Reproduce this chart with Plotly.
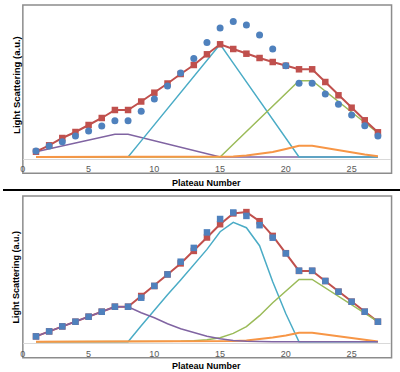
import plotly.graph_objects as go

plateau = list(range(1, 28))
x_ticks = [0, 5, 10, 15, 20, 25]

# ---- top panel (linear decomposition) ----
top_data = [6, 11, 15.3, 21, 26, 31, 36.3, 36.3, 45.7, 58, 71, 84, 98.5, 114.5, 129, 135.5,
            132, 122, 108, 91.3, 73.7, 73.7, 63, 52.7, 42, 31.3, 21]
top_fit = [5.3, 11.7, 19, 25, 32, 39, 47, 47, 55.5, 64.3, 73.5, 83, 92, 102.7, 112.7, 108,
           103.3, 99, 95, 91.3, 87.7, 87.7, 75, 61.7, 49.3, 36.7, 24.7]
top_purple = [5.3, 8.2, 11.1, 14, 16.9, 19.8, 22.7, 22.7, 19.5, 16.2, 13, 9.7, 6.5, 3.2, 0,
              0, 0, 0, 0, 0, 0, 0, 0, 0, 0, 0, 0]
top_cyan = [0, 0, 0, 0, 0, 0, 0, 0, 16.1, 32.2, 48.3, 64.4, 80.5, 96.6, 112.7, 93.9, 75.1,
            56.3, 37.6, 18.8, 0, 0, 0, 0, 0, 0, 0]
top_green = [0, 0, 0, 0, 0, 0, 0, 0, 0, 0, 0, 0, 0, 0, 0, 12.7, 25.4, 38.2, 50.9, 63.6,
             76.3, 76.3, 66, 55.5, 45, 34.5, 24]
top_orange = [0, 0, 0, 0, 0, 0, 0, 0, 0, 0, 0, 0, 0, 0, 0, 0.5, 1.5, 3, 5, 8, 11.3, 11.3,
              9, 6.8, 4.6, 2.6, 0.8]

# ---- bottom panel (curved decomposition) ----
bot_data = [5.3, 10.3, 15.3, 20, 25, 30, 35, 35, 44, 55.8, 67.3, 80, 93.8, 109.3, 122.7,
            129.2, 125.8, 116.5, 104, 88.3, 71, 71, 60.7, 50, 40, 30, 20]
bot_fit = [5.3, 10.3, 15.3, 20, 25, 30, 35, 35, 45.7, 55.7, 67.3, 78.3, 90.8, 104.2, 117.5,
           128.3, 129.6, 120.5, 105.8, 88.5, 70.8, 70.8, 60.7, 50, 40, 30, 20]
bot_purple = [5.3, 10.3, 15.3, 20, 25, 30, 35, 35, 29, 24, 18, 13, 9, 5.5, 3, 1.3, 0.4, 0,
              0, 0, 0, 0, 0, 0, 0, 0, 0]
bot_cyan = [0, 0, 0, 0, 0, 0, 0, 0, 16, 31.7, 47, 61.7, 76.7, 92.3, 110, 119.3, 114, 96,
            60, 28, 0, 0, 0, 0, 0, 0, 0]
bot_green = [0, 0, 0, 0, 0, 0, 0, 0, 0, 0, 0, 0.5, 1, 2, 4, 8.3, 15, 26, 39, 51, 62.3,
             62.3, 53.8, 45.4, 36.9, 28.5, 20]
bot_orange = [0, 0, 0, 0, 0, 0, 0, 0, 0, 0, 0, 0, 0, 0, 0.2, 0.6, 1.3, 2.5, 4.2, 6.3, 9, 9,
              7.3, 5.5, 3.7, 1.9, 0.3]

BLUE, RED, GREEN, PURPLE, CYAN, ORANGE = "#4F81BD", "#C0504D", "#9BBB59", "#8064A2", "#4BACC6", "#F79646"
FONT = "Liberation Sans, Arial, sans-serif"

W, H = 400, 372
fig = go.Figure()


def line(y, color, xa, ya, width=1.5):
    fig.add_trace(go.Scatter(x=plateau, y=y, mode="lines", line=dict(color=color, width=width),
                             xaxis=xa, yaxis=ya, showlegend=False, hoverinfo="skip"))


def fit(y, xa, ya):
    fig.add_trace(go.Scatter(x=plateau, y=y, mode="lines+markers",
                             line=dict(color=RED, width=2),
                             marker=dict(symbol="square", size=6.5, color=RED),
                             xaxis=xa, yaxis=ya, showlegend=False, cliponaxis=False))


def data(y, xa, ya, symbol, size):
    fig.add_trace(go.Scatter(x=plateau, y=y, mode="markers",
                             marker=dict(symbol=symbol, size=size, color=BLUE),
                             xaxis=xa, yaxis=ya, showlegend=False, cliponaxis=False))


# top panel
line(top_purple, PURPLE, "x", "y")
line(top_cyan, CYAN, "x", "y")
line(top_green, GREEN, "x", "y")
line(top_orange, ORANGE, "x", "y", 2)
fit(top_fit, "x", "y")
data(top_data, "x", "y", "circle", 7)

# bottom panel
fit(bot_fit, "x2", "y2")
line(bot_cyan, CYAN, "x2", "y2")
line(bot_green, GREEN, "x2", "y2")
line(bot_orange, ORANGE, "x2", "y2", 2)
line(bot_purple, PURPLE, "x2", "y2")
data(bot_data, "x2", "y2", "square", 6.5)


def py(p):
    return (H - p) / H


xcommon = dict(range=[0, 28], tickvals=x_ticks, showgrid=False, zeroline=False,
               showline=True, linecolor="#D9D9D9", linewidth=1, ticks="",
               ticklabelstandoff=2,
               tickfont=dict(family=FONT, size=9, color="#595959"),
               domain=[20 / W, 391 / W], fixedrange=True)
ycommon = dict(visible=False, showgrid=False, zeroline=False, fixedrange=True)

fig.update_layout(
    width=W, height=H,
    margin=dict(l=0, r=0, t=0, b=0),
    paper_bgcolor="white", plot_bgcolor="rgba(0,0,0,0)",
    xaxis=dict(**xcommon, anchor="y"),
    yaxis=dict(**ycommon, range=[-1.5, 152], domain=[py(158.5), py(5)], anchor="x"),
    xaxis2=dict(**xcommon, anchor="y2"),
    yaxis2=dict(**ycommon, range=[-1.5, 145.7], domain=[py(343.2), py(196)], anchor="x2"),
    shapes=[
        dict(type="rect", xref="paper", yref="paper", x0=20 / W, x1=391.5 / W,
             y0=py(173.3), y1=py(5), line=dict(color="#8C8C8C", width=1.5), layer="below"),
        dict(type="rect", xref="paper", yref="paper", x0=20 / W, x1=391.5 / W,
             y0=py(357.7), y1=py(196), line=dict(color="#8C8C8C", width=1.5), layer="below"),
        dict(type="line", xref="paper", yref="paper", x0=0, x1=1, y0=py(190), y1=py(190),
             line=dict(color="black", width=2)),
    ],
    annotations=[
        dict(text="<b>Plateau Number</b>", x=205 / W, y=py(182.5), xref="paper", yref="paper",
             showarrow=False, font=dict(family=FONT, size=9, color="black"),
             xanchor="center", yanchor="middle"),
        dict(text="<b>Plateau Number</b>", x=205 / W, y=py(366), xref="paper", yref="paper",
             showarrow=False, font=dict(family=FONT, size=9, color="black"),
             xanchor="center", yanchor="middle"),
        dict(text="<b>Light Scattering (a.u.)</b>", x=13 / W, y=py(85), xref="paper", yref="paper",
             showarrow=False, textangle=-90, font=dict(family=FONT, size=9.5, color="black"),
             xanchor="center", yanchor="middle"),
        dict(text="<b>Light Scattering (a.u.)</b>", x=13 / W, y=py(276.5), xref="paper", yref="paper",
             showarrow=False, textangle=-90, font=dict(family=FONT, size=9, color="black"),
             xanchor="center", yanchor="middle"),
    ],
)

fig.write_html("out.html", config={"displayModeBar": False},
               post_script="document.body.style.margin='0';")
